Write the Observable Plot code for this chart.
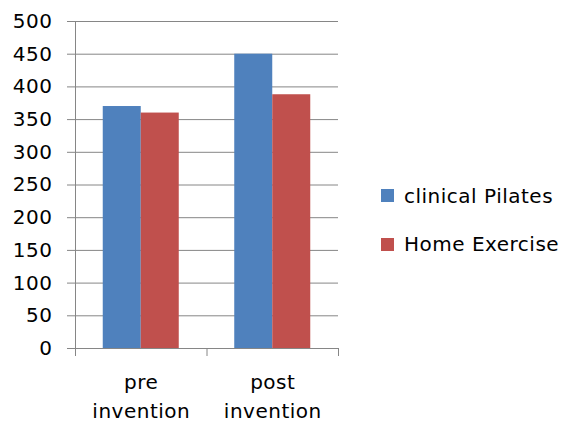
<!DOCTYPE html>
<html>
<head>
<meta charset="utf-8">
<script src="https://cdn.jsdelivr.net/npm/d3@7"></script>
<script src="https://cdn.jsdelivr.net/npm/@observablehq/plot@0.6"></script>
<style>
  body { margin: 0; background: #fff; }
  #wrap { position: relative; width: 562px; height: 426px; font-family: "DejaVu Sans", sans-serif; }
  #legend { position: absolute; left: 381px; top: 183.5px; font-size: 20px; letter-spacing: 0.5px; color: #000; }
  #legend .item { display: flex; align-items: center; height: 24px; margin-bottom: 24.5px; }
  #legend .swatch { width: 13px; height: 13px; margin-right: 10px; flex: none; }
</style>
</head>
<body>
<div id="wrap"><div id="legend"></div></div>
<script>
// Categories, series and values
const categories = ["pre\ninvention", "post\ninvention"];
const series = ["clinical Pilates", "Home Exercise"];
const clinicalPilates = [370, 450];
const homeExercise = [360, 388];
const yTicks = [0, 50, 100, 150, 200, 250, 300, 350, 400, 450, 500];
const colors = ["#4F81BD", "#C0504D"];

const values = [clinicalPilates, homeExercise];
const rows = categories.flatMap((c, i) =>
  series.map((s, j) => ({category: c, series: s, value: values[j][i]}))
);

// Layout
const width = 562, height = 426;
const marginLeft = 75, marginRight = 224, marginTop = 21, marginBottom = 78;
const paddingInner = 0.422, paddingOuter = 0.211;
const step = (width - marginLeft - marginRight) / (categories.length - paddingInner + 2 * paddingOuter);
const bandwidth = step * (1 - paddingInner);
const half = bandwidth / series.length;
const gray = "#868686";

const chart = Plot.plot({
  width, height, marginLeft, marginRight, marginTop, marginBottom,
  style: "font-family: 'DejaVu Sans', sans-serif; font-size: 20px; letter-spacing: 0.5px; color: #000; background: #fff;",
  x: {domain: categories, paddingInner, paddingOuter, round: false, label: null, axis: null},
  y: {domain: [0, 500], label: null, axis: null},
  color: {domain: series, range: colors},
  marks: [
    Plot.gridY(yTicks, {stroke: gray, strokeOpacity: 1}),
    Plot.barY(rows.filter(d => d.series === series[0]), {x: "category", y: "value", fill: "series", insetRight: half}),
    Plot.barY(rows.filter(d => d.series === series[1]), {x: "category", y: "value", fill: "series", insetLeft: half}),
    Plot.frame({anchor: "left", stroke: gray}),
    Plot.ruleY([0], {stroke: gray}),
    Plot.axisY(yTicks, {tickSize: 8, tickPadding: 15, stroke: gray, fill: "#000", label: null}),
    // tick marks on the category boundaries
    Plot.axisX(categories, {tickSize: 8, tickFormat: () => "", dx: -step / 2, stroke: gray, label: null}),
    Plot.axisX([categories[categories.length - 1]], {tickSize: 8, tickFormat: () => "", dx: step / 2, stroke: gray, label: null}),
    // category labels
    Plot.axisX(categories, {tickSize: 0, tickPadding: 20, lineHeight: 1.45, fill: "#000", label: null})
  ]
});
document.getElementById("wrap").prepend(chart);

// Legend
const legend = document.getElementById("legend");
series.forEach((s, i) => {
  const item = document.createElement("div");
  item.className = "item";
  const sw = document.createElement("span");
  sw.className = "swatch";
  sw.style.background = colors[i];
  const label = document.createElement("span");
  label.textContent = s;
  item.append(sw, label);
  legend.append(item);
});
</script>
</body>
</html>
